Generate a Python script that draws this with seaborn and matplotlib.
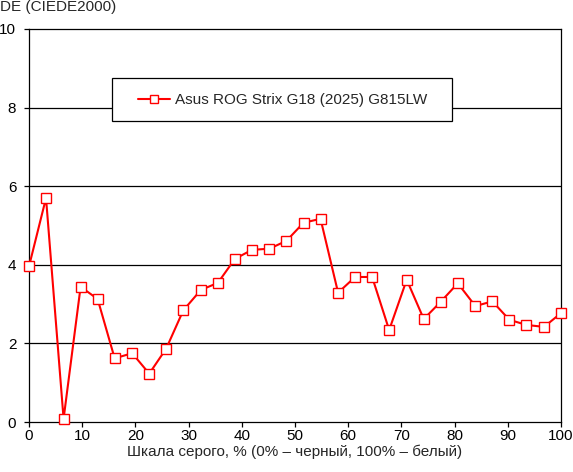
import pandas as pd
import numpy as np
import matplotlib
matplotlib.use('Agg')
import matplotlib.pyplot as plt
from matplotlib.patches import Rectangle
import seaborn as sns

# gray level steps (32 measurements, 0..100 %)
gray_pct = [0, 3.2, 6.5, 9.7, 12.9, 16.1, 19.4, 22.6, 25.8, 29.0, 32.3,
            35.5, 38.7, 41.9, 45.2, 48.4, 51.6, 54.8, 58.1, 61.3, 64.5,
            67.7, 71.0, 74.2, 77.4, 80.6, 83.9, 87.1, 90.3, 93.5, 96.8, 100]
de_values = [3.96, 5.70, 0.08, 3.44, 3.13, 1.62, 1.75, 1.23, 1.87, 2.84, 3.36,
             3.54, 4.15, 4.38, 4.41, 4.61, 5.07, 5.17, 3.29, 3.69, 3.69,
             2.34, 3.62, 2.62, 3.06, 3.53, 2.95, 3.07, 2.60, 2.47, 2.42, 2.77]
series_name = 'Asus ROG Strix G18 (2025) G815LW'
x_ticks = list(range(0, 101, 10))
y_ticks = list(range(0, 11, 2))

df = pd.DataFrame({'gray': gray_pct, 'de': de_values})

sns.set_theme(style='white')
plt.rcParams['font.family'] = ['Liberation Sans', 'DejaVu Sans']
plt.rcParams['font.size'] = 11

fig = plt.figure(figsize=(5.73, 4.72), dpi=100)
W, H = 573, 472
ax = fig.add_axes([29 / W, (H - 422) / H, (561 - 29) / W, (422 - 29) / H])

sns.lineplot(data=df, x='gray', y='de', ax=ax, color='red', linewidth=1.5,
             marker='s', markersize=7.2, markerfacecolor='white',
             markeredgecolor='red', markeredgewidth=1.0, label=series_name,
             clip_on=False, zorder=5)

ax.set_xlim(0, 100)
ax.set_ylim(0, 10)
ax.set_xticks(x_ticks)
ax.set_yticks(y_ticks)
ax.set_xlabel('')
ax.set_ylabel('')

# only horizontal grid lines, in black
for v in y_ticks[1:-1]:
    ax.axhline(v, color='black', linewidth=0.9, zorder=0)

for s in ax.spines.values():
    s.set_color('black')
    s.set_linewidth(0.9)
ax.tick_params(axis='both', direction='out', length=3.6, width=0.9,
               color='black', labelsize=11, labelcolor='black',
               bottom=True, left=True)
ax.tick_params(axis='x', pad=1.5)
ax.tick_params(axis='y', pad=5.5)

# legend box drawn separately so its size matches the original
ax.add_patch(Rectangle((0.1555, 0.766), 0.639, 0.1087, transform=ax.transAxes,
                       facecolor='white', edgecolor='black', linewidth=0.9,
                       zorder=3))
leg = ax.legend(loc='center', bbox_to_anchor=(0.4765, 0.8195), fontsize=11,
                frameon=False, borderpad=0, handlelength=2.1,
                handletextpad=0.35, markerscale=0.85)
leg.set_zorder(6)

fig.text(0.0, 1 - 7.5 / H, 'DE (CIEDE2000)', fontsize=11, ha='left', va='center')
fig.text((29 + 561) / 2 / W, 1 - 452 / H,
         'Шкала серого, % (0% – черный, 100% – белый)',
         fontsize=11, ha='center', va='center')

fig.savefig('out.png', dpi=100, facecolor='white')
